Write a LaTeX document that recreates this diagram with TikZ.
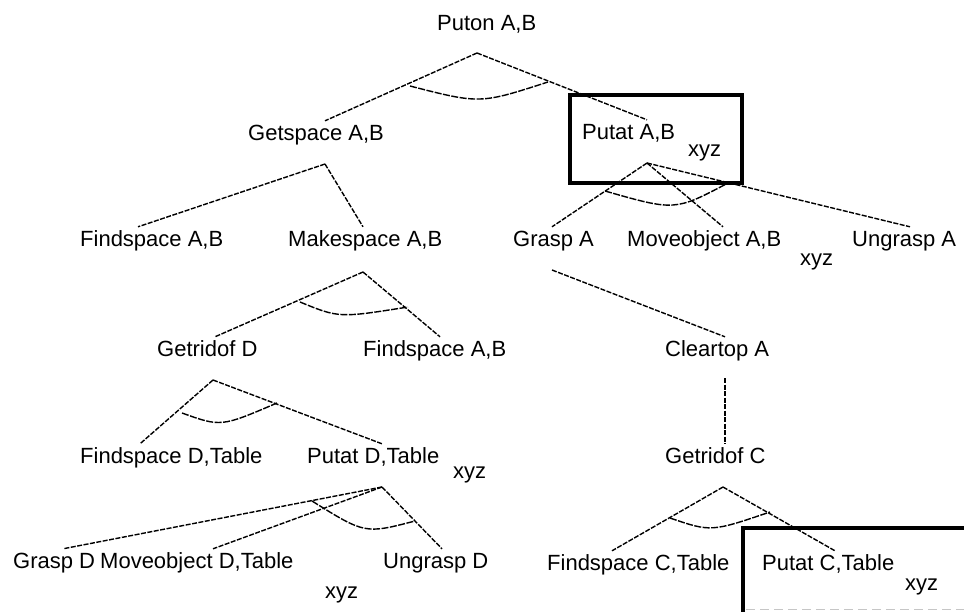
\documentclass[tikz,border=0pt]{standalone}
\usepackage{fontspec}
\setmainfont{Liberation Sans}

\tikzset{
  goal/.style={anchor=base west, inner xsep=0pt, inner ysep=3pt,
    text height=16pt, text depth=5pt, font=\fontsize{22}{26}\selectfont},
  link/.style={line width=1.4pt, dash pattern=on 5pt off 1.5pt},
  andarc/.style={line width=1.4pt, dash pattern=on 7pt off 1.5pt},
  goalbox/.style={line width=3.2pt},
}

\begin{document}
\begin{tikzpicture}[x=1pt,y=-1pt]
        \useasboundingbox (0,0) rectangle (964,611);

        % goals
        \node[goal] (puton) at (437,30) {Puton A,B};
        \node[goal] (getspace) at (248,140) {Getspace A,B};
        \node[goal] (putatab) at (582,139) {Putat A,B};
        \node[goal] (putatab-x) at (688,156) {xyz};
        \node[goal] (findab) at (80,246) {Findspace A,B};
        \node[goal] (makespace) at (288,246) {Makespace A,B};
        \node[goal] (graspa) at (513,246) {Grasp A};
        \node[goal] (moveab) at (627,246) {Moveobject A,B};
        \node[goal] (moveab-x) at (800,265) {xyz};
        \node[goal] (ungraspa) at (852,246) {Ungrasp A};
        \node[goal] (getridd) at (157,356) {Getridof D};
        \node[goal] (findab2) at (363,356) {Findspace A,B};
        \node[goal] (cleartop) at (665,356) {Cleartop A};
        \node[goal] (findd) at (80,463) {Findspace D,Table};
        \node[goal] (putatd) at (307,463) {Putat D,Table};
        \node[goal] (putatd-x) at (453,478) {xyz};
        \node[goal] (getridc) at (665,463) {Getridof C};
        \node[goal] (graspd) at (13,568) {Grasp D};
        \node[goal] (moved) at (100,568) {Moveobject D,Table};
        \node[goal] (moved-x) at (325,598) {xyz};
        \node[goal] (ungraspd) at (383,568) {Ungrasp D};
        \node[goal] (findc) at (547,570) {Findspace C,Table};
        \node[goal] (putatc) at (762,570) {Putat C,Table};
        \node[goal] (putatc-x) at (905,590) {xyz};

        % branch points under each goal
        \coordinate (puton-b) at (477,53);
        \coordinate (getspace-b) at (325,164);
        \coordinate (putatab-b) at (647,163);
        \coordinate (graspa-b) at (552,270);
        \coordinate (makespace-b) at (363,272);
        \coordinate (cleartop-b) at (725,378);
        \coordinate (getridd-b) at (213,380);
        \coordinate (putatd-b) at (382,487);
        \coordinate (getridc-b) at (723,487);

        %% links
        \draw[link] (puton-b) -- ([xshift=77pt]getspace.north west);
        \draw[link] (puton-b) -- ([xshift=65pt]putatab.north west);
        \draw[link] (getspace-b) -- ([xshift=58pt]findab.north west);
        \draw[link] (getspace-b) -- ([xshift=75pt]makespace.north west);
        \draw[link] (putatab-b) -- ([xshift=39pt]graspa.north west);
        \draw[link] (putatab-b) -- ([xshift=96pt]moveab.north west);
        \draw[link] (putatab-b) -- ([xshift=58pt]ungraspa.north west);
        \draw[link] (graspa-b) -- ([xshift=60pt]cleartop.north west);
        \draw[link] (makespace-b) -- ([xshift=58pt]getridd.north west);
        \draw[link] (makespace-b) -- ([xshift=77pt]findab2.north west);
        \draw[link] (cleartop-b) -- ([xshift=60pt]getridc.north west);
        \draw[link] (getridd-b) -- ([xshift=60pt]findd.north west);
        \draw[link] (getridd-b) -- ([xshift=75pt]putatd.north west);
        \draw[link] (putatd-b) -- ([xshift=50pt]graspd.north west);
        \draw[link] (putatd-b) -- ([xshift=113pt]moved.north west);
        \draw[link] (putatd-b) -- ([xshift=59pt]ungraspd.north west);
        \draw[link] (getridc-b) -- ([xshift=65pt]findc.north west);
        \draw[link] (getridc-b) -- ([xshift=73pt]putatc.north west);

        %% and arcs
        \draw[andarc] (410,86) .. controls (480,104) .. (548,82);
        \draw[andarc] (605,191) .. controls (675,211) .. (728,183);
        \draw[andarc] (300,302) .. controls (339,318) .. (408,307);
        \draw[andarc] (182,413) .. controls (221,427) .. (277,403);
        \draw[andarc] (312,501) .. controls (365,534) .. (415,521);
        \draw[andarc] (670,518) .. controls (711,532) .. (770,512);

        % boxes
        \draw[goalbox] (570,95) rectangle (742,183);
        \draw[goalbox] (980,528) -- (743,528) -- (743,620);
        \draw[gray!45, line width=1pt, dash pattern=on 9pt off 5pt] (746,609) -- (964,609);
\end{tikzpicture}
\end{document}
